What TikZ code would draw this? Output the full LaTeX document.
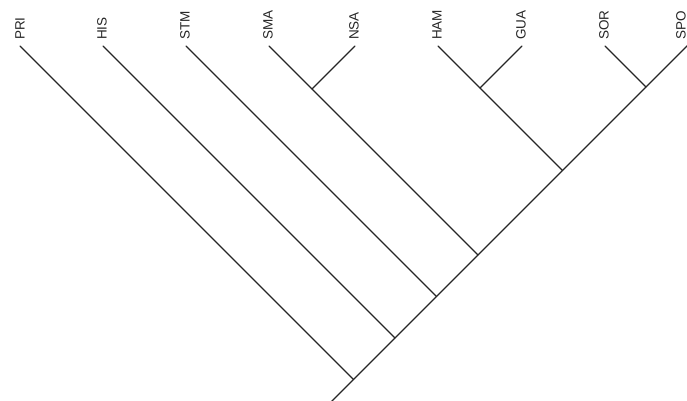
\documentclass[tikz,border=0pt]{standalone}
\usepackage{fontspec}
\setmainfont{Liberation Sans}
\begin{document}
\begin{tikzpicture}[x=1pt,y=1pt,
  branch/.style={draw=black!85,line width=1.3pt,line cap=round,line join=round},
  leaflab/.style={rotate=90,anchor=west,inner sep=0pt,font=\fontsize{13.5}{15}\selectfont,text=black!85}]
\useasboundingbox (0,0) rectangle (687,-400);
% leaf tips
\coordinate (tPRI) at (20,-46);
\coordinate (tHIS) at (103,-46);
\coordinate (tSTM) at (186,-46);
\coordinate (tSMA) at (269,-46);
\coordinate (tNSA) at (355,-46);
\coordinate (tHAM) at (438,-46);
\coordinate (tGUA) at (522,-46);
\coordinate (tSOR) at (605,-46);
\coordinate (tSPO) at (688,-45);
% cherries
\coordinate (jSN) at (312,-89);
\coordinate (jHG) at (480,-88);
\coordinate (jSS) at (646,-87);
% spine junctions
\coordinate (sHG) at (562.5,-170.5);
\coordinate (sSN) at (478,-255);
\coordinate (sSTM) at (436.5,-296.5);
\coordinate (sHIS) at (395,-338);
\coordinate (sPRI) at (353.5,-379.5);
\coordinate (root) at (329,-404);
% labels
\foreach \n/\x in {PRI/20,HIS/102,STM/185,SMA/268,NSA/354,HAM/437,GUA/521,SOR/604,SPO/681}
  \node[leaflab] (\n) at (\x,-40) {\n};
% spine
\draw[branch] (root) -- (sPRI) -- (sHIS) -- (sSTM) -- (sSN) -- (sHG) -- (jSS) -- (tSPO);
% branches
\draw[branch] (tPRI) -- (sPRI);
\draw[branch] (tHIS) -- (sHIS);
\draw[branch] (tSTM) -- (sSTM);
\draw[branch] (tSMA) -- (jSN) -- (sSN);
\draw[branch] (tNSA) -- (jSN);
\draw[branch] (tHAM) -- (jHG) -- (sHG);
\draw[branch] (tGUA) -- (jHG);
\draw[branch] (tSOR) -- (jSS);
\end{tikzpicture}
\end{document}
